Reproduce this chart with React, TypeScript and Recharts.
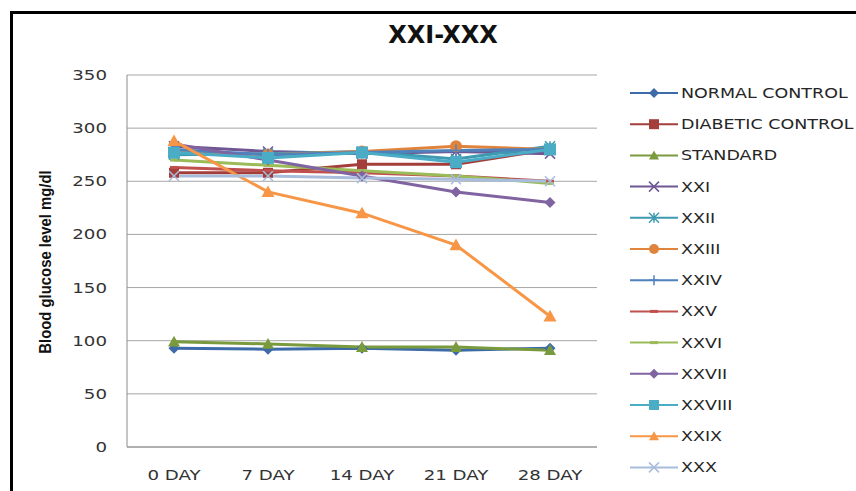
import { CartesianGrid, Line, LineChart, XAxis, YAxis } from "recharts";

const days = ["0 DAY", "7 DAY", "14 DAY", "21 DAY", "28 DAY"];
const yTicks = [0, 50, 100, 150, 200, 250, 300, 350];

const normalControl = [93, 92, 93, 91, 93];
const diabeticControl = [258, 258, 266, 266, 280];
const standard = [99, 97, 94, 94, 91];
const xxi = [283, 278, 276, 278, 276];
const xxii = [275, 276, 278, 271, 283];
const xxiii = [278, 275, 278, 283, 280];
const xxiv = [280, 275, 277, 279, 280];
const xxv = [263, 260, 258, 255, 250];
const xxvi = [270, 265, 260, 255, 248];
const xxvii = [285, 270, 255, 240, 230];
const xxviii = [277, 272, 277, 268, 280];
const xxix = [288, 240, 220, 190, 123];
const xxx = [255, 255, 253, 252, 250];

type Shape = "diamond" | "square" | "triangle" | "x" | "star" | "circle" | "plus" | "dash";

const series: { key: string; name: string; values: number[]; color: string; shape: Shape; size: number }[] = [
  { key: "normal", name: "NORMAL CONTROL", values: normalControl, color: "#3D6AA8", shape: "diamond", size: 5.5 },
  { key: "diabetic", name: "DIABETIC CONTROL", values: diabeticControl, color: "#A33E3A", shape: "square", size: 5 },
  { key: "standard", name: "STANDARD", values: standard, color: "#7A9A3E", shape: "triangle", size: 6 },
  { key: "xxi", name: "XXI", values: xxi, color: "#6F5793", shape: "x", size: 5 },
  { key: "xxii", name: "XXII", values: xxii, color: "#3D9AB1", shape: "star", size: 5 },
  { key: "xxiii", name: "XXIII", values: xxiii, color: "#E0843D", shape: "circle", size: 6 },
  { key: "xxiv", name: "XXIV", values: xxiv, color: "#4F81BD", shape: "plus", size: 6 },
  { key: "xxv", name: "XXV", values: xxv, color: "#C0504D", shape: "dash", size: 4 },
  { key: "xxvi", name: "XXVI", values: xxvi, color: "#9BBB59", shape: "dash", size: 4 },
  { key: "xxvii", name: "XXVII", values: xxvii, color: "#8064A2", shape: "diamond", size: 5.5 },
  { key: "xxviii", name: "XXVIII", values: xxviii, color: "#4BACC6", shape: "square", size: 6 },
  { key: "xxix", name: "XXIX", values: xxix, color: "#F79646", shape: "triangle", size: 6.5 },
  { key: "xxx", name: "XXX", values: xxx, color: "#A8BCDC", shape: "x", size: 5 },
];

const data = days.map((day, i) => {
  const row: Record<string, string | number> = { day };
  series.forEach((s) => (row[s.key] = s.values[i]));
  return row;
});

const FONT = "'DejaVu Sans', Verdana, sans-serif";

function Marker({ shape, color, x, y, s }: { shape: Shape; color: string; x: number; y: number; s: number }) {
  switch (shape) {
    case "diamond":
      return <path d={`M${x},${y - s}L${x + s},${y}L${x},${y + s}L${x - s},${y}Z`} fill={color} />;
    case "square":
      return <rect x={x - s} y={y - s} width={s * 2} height={s * 2} fill={color} />;
    case "triangle":
      return <path d={`M${x},${y - s}L${x + s},${y + s * 0.8}L${x - s},${y + s * 0.8}Z`} fill={color} />;
    case "circle":
      return <circle cx={x} cy={y} r={s} fill={color} />;
    case "x":
      return (
        <path d={`M${x - s},${y - s}L${x + s},${y + s}M${x - s},${y + s}L${x + s},${y - s}`} stroke={color} strokeWidth={1.5} />
      );
    case "star":
      return (
        <path
          d={`M${x - s},${y - s}L${x + s},${y + s}M${x - s},${y + s}L${x + s},${y - s}M${x},${y - s}L${x},${y + s}`}
          stroke={color}
          strokeWidth={1.5}
        />
      );
    case "plus":
      return <path d={`M${x},${y - s}L${x},${y + s}M${x - s},${y}L${x + s},${y}`} stroke={color} strokeWidth={1.5} />;
    case "dash":
      return <rect x={x - s} y={y - 1.5} width={s * 2} height={3} fill={color} />;
  }
}

const YTick = (props: any) => {
  const { x, y, payload } = props;
  return (
    <text
      transform={`translate(${x},${y}) scale(1.3,1)`}
      textAnchor="end"
      dy="0.36em"
      fontFamily={FONT}
      fontSize={14}
      fill="#333"
    >
      {payload.value}
    </text>
  );
};

const XTick = (props: any) => {
  const { x, y, payload } = props;
  return (
    <text
      transform={`translate(${x},${y}) scale(1.3,1)`}
      textAnchor="middle"
      dy="0.36em"
      fontFamily={FONT}
      fontSize={14}
      fill="#333"
    >
      {payload.value}
    </text>
  );
};

export default function App() {
  return (
    <div style={{ position: "absolute", left: 0, top: 0, width: 856, height: 491, background: "#fff", overflow: "hidden" }}>
      <div
        style={{
          position: "absolute",
          left: 10,
          top: 11,
          width: 900,
          height: 600,
          borderTop: "3px solid #000",
          borderLeft: "3px solid #000",
        }}
      />
      <LineChart
        width={856}
        height={491}
        data={data}
        margin={{ top: 75, right: 259, bottom: 14, left: 0 }}
        style={{ position: "absolute", left: 0, top: 0 }}
      >
        <text x={443} y={43} textAnchor="middle" fontFamily={FONT} fontWeight="bold" fontSize={24} fill="#111">
          XXI-XXX
        </text>
        <text
          transform="translate(51,262) rotate(-90) scale(0.93,1)"
          textAnchor="middle"
          fontFamily="'Liberation Sans', Arial, sans-serif"
          fontWeight="bold"
          fontSize={16}
          fill="#111"
        >
          Blood glucose level mg/dl
        </text>
        <CartesianGrid vertical={false} stroke="#A6A6A6" />
        <XAxis
          dataKey="day"
          height={30}
          padding={{ left: 47, right: 47 }}
          tickLine={false}
          tickSize={0}
          tickMargin={28}
          axisLine={{ stroke: "#8C8C8C" }}
          tick={<XTick />}
          interval={0}
        />
        <YAxis
          width={127}
          domain={[0, 350]}
          ticks={yTicks}
          tickLine={false}
          tickSize={0}
          tickMargin={20}
          axisLine={{ stroke: "#8C8C8C" }}
          tick={<YTick />}
        />
        {series.map((s) => (
          <Line
            key={s.key}
            dataKey={s.key}
            name={s.name}
            type="linear"
            stroke={s.color}
            strokeWidth={3}
            isAnimationActive={false}
            activeDot={false}
            dot={(p: any) => (
              <Marker key={`${s.key}-${p.index}`} shape={s.shape} color={s.color} x={p.cx} y={p.cy} s={s.size} />
            )}
          />
        ))}
      </LineChart>
      <svg width={856} height={491} style={{ position: "absolute", left: 0, top: 0, pointerEvents: "none" }}>
        {series.map((s, i) => {
          const y = 93 + i * 31.2;
          return (
            <g key={s.key}>
              <line x1={630} x2={678} y1={y} y2={y} stroke={s.color} strokeWidth={2} />
              <Marker shape={s.shape} color={s.color} x={654} y={y} s={s.shape === "dash" ? 4 : 5} />
              <text
                transform={`translate(681,${y}) scale(1.25,1)`}
                dy="0.36em"
                fontFamily={FONT}
                fontSize={14}
                fill="#262626"
              >
                {s.name}
              </text>
            </g>
          );
        })}
      </svg>
    </div>
  );
}
